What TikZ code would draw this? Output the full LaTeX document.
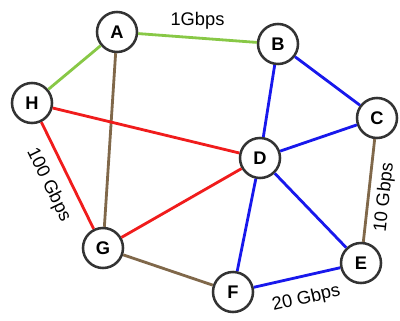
\documentclass[tikz,border=0pt]{standalone}
\usepackage{fontspec}
\setmainfont{Liberation Sans}
\definecolor{gbgreen}{RGB}{136,200,70}
\definecolor{gbbrown}{RGB}{128,104,74}
\definecolor{gbred}{RGB}{240,28,28}
\definecolor{gbblue}{RGB}{24,24,236}
\tikzset{every picture/.style={
  line join=round                % keep the thick links clean at the ends
  }
}

\begin{document}
\begin{tikzpicture}[
        x=0.025cm,y=-0.025cm,
        router/.style={
          circle,
          draw=black!80,
          line width=1.8pt,
          fill=white,
          minimum size=1cm,
          inner sep=0pt,
          font=\fontsize{13}{15}\selectfont\bfseries,
        },
        link/.style={line width=2pt},
        rate/.style={font=\fontsize{13}{15}\selectfont,text=black,inner sep=2pt},
      ]
      \useasboundingbox (0,0) rectangle (400,321);
      \node[router] (A) at (117,32) {A};
      \node[router] (H) at (32,103) {H}
        edge [link,gbgreen] (A);
      \node[router] (B) at (278,44) {B}
        edge [link,gbgreen] node[rate,above=3pt] {1Gbps} (A);
      \node[router] (G) at (103,248) {G}
        edge [link,gbbrown] (A)
        edge [link,gbred] node[rate,sloped,below=6pt] {100 Gbps} (H);
      \node[router] (D) at (260,158) {D}
        edge [link,gbred] (H)
        edge [link,gbred] (G)
        edge [link,gbblue] (B);
      \node[router] (C) at (377,118) {C}
        edge [link,gbblue] (B)
        edge [link,gbblue] (D);
      \node[router] (F) at (233,292) {F}
        edge [link,gbbrown] (G)
        edge [link,gbblue] (D);
      \node[router] (E) at (361,263) {E}
        edge [link,gbblue] (D)
        edge [link,gbbrown] node[rate,sloped,below=2.5pt,pos=0.45] {10 Gbps} (C)
        edge [link,gbblue] node[rate,sloped,below=7pt,pos=0.45] {20 Gbps} (F);
      \end{tikzpicture}
\end{document}
